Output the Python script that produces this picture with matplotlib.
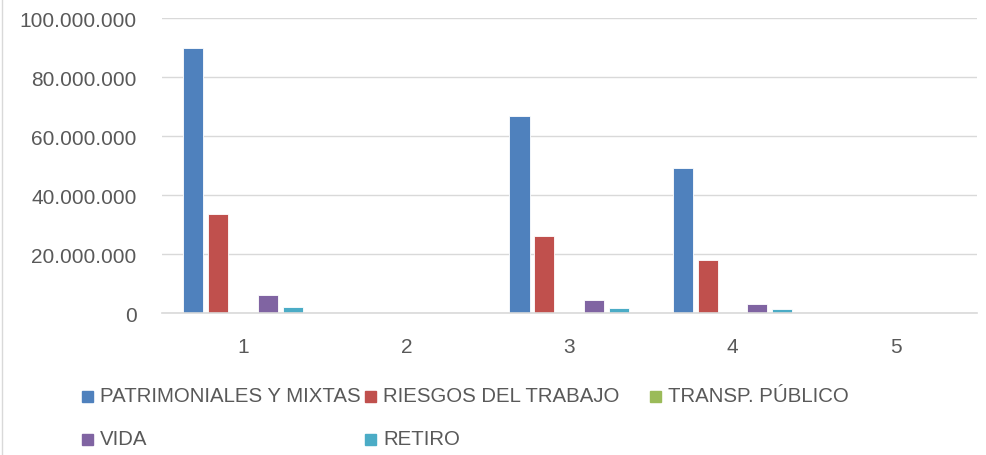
import matplotlib.pyplot as plt
import numpy as np
from matplotlib.patches import Rectangle
from matplotlib.lines import Line2D
from matplotlib.ticker import FuncFormatter

categories = ["1", "2", "3", "4", "5"]
series = ["PATRIMONIALES Y MIXTAS", "RIESGOS DEL TRABAJO", "TRANSP. PÚBLICO", "VIDA", "RETIRO"]
patrimoniales = [90_000_000, 0, 66_800_000, 49_200_000, 0]
riesgos = [33_500_000, 0, 26_100_000, 18_000_000, 0]
transp = [0, 0, 0, 0, 0]
vida = [6_100_000, 0, 4_400_000, 3_100_000, 0]
retiro = [2_000_000, 0, 1_700_000, 1_300_000, 0]
colors = ["#4F81BD", "#C0504D", "#9BBB59", "#8064A2", "#4BACC6"]

plt.rcParams['font.family'] = ['Liberation Sans', 'DejaVu Sans']
text_color = "#595959"

fig = plt.figure(figsize=(9.86, 4.56), dpi=100)
ax = fig.add_axes([0.164, 0.311, 0.827, 0.647])

x = np.arange(len(categories))
slot = 0.153
width = 0.123
for i, vals in enumerate([patrimoniales, riesgos, transp, vida, retiro]):
    ax.bar(x + (i - 2) * slot, vals, width, color=colors[i],
           edgecolor="white", linewidth=0.6)

ax.set_xlim(-0.5, 4.5)
ax.set_ylim(0, 100_000_000)
ax.set_yticks(np.arange(0, 100_000_001, 20_000_000))
ax.yaxis.set_major_formatter(FuncFormatter(lambda v, p: f"{int(v):,}".replace(",", ".")))
ax.set_xticks(x)
ax.set_xticklabels(categories)
ax.grid(axis="y", color="#d9d9d9", linewidth=1)
ax.set_axisbelow(True)
for s in ["top", "right", "left"]:
    ax.spines[s].set_visible(False)
ax.spines["bottom"].set_color("#d9d9d9")
ax.spines["bottom"].set_linewidth(1.2)
ax.tick_params(axis="both", length=0, labelsize=15, colors=text_color)
ax.tick_params(axis="x", pad=17)
ax.tick_params(axis="y", pad=18)

# legend laid out like the Excel one (row-major, fixed column width)
W, H = 986, 456
pos = [(82, 397), (365, 397), (650, 397), (82, 440), (365, 440)]
for (px, py), name, c in zip(pos, series, colors):
    fig.patches.append(Rectangle((px / W, (H - py - 6) / H), 11 / W, 11 / H,
                                 transform=fig.transFigure, color=c))
    fig.text((px + 18) / W, (H - py) / H, name, fontsize=14.7, color=text_color,
             va="center", ha="left")

# chart frame line at left edge
fig.add_artist(Line2D([2 / W, 2 / W], [0, 1], transform=fig.transFigure,
                      color="#d9d9d9", linewidth=1))

fig.savefig("out.png", dpi=100)
